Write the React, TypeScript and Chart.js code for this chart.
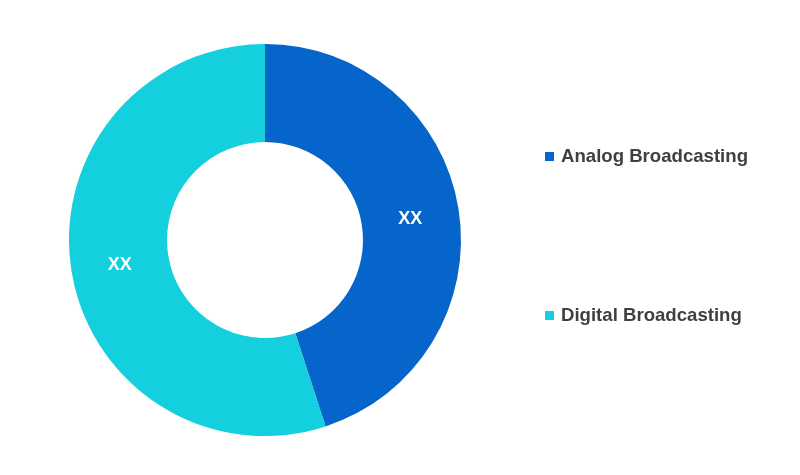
import { useEffect, useRef } from 'react';
import { Chart, registerables } from 'chart.js';

Chart.register(...registerables);

const segments = ['Analog Broadcasting', 'Digital Broadcasting'];
const shares = [45, 55];
const sliceLabels = ['XX', 'XX'];
const colors = ['#0565CA', '#14CFDE'];

const sliceTextPlugin = {
  id: 'sliceText',
  afterDatasetsDraw(chart: any) {
    const { ctx } = chart;
    const meta = chart.getDatasetMeta(0);
    ctx.save();
    ctx.fillStyle = '#ffffff';
    ctx.font = 'bold 18px "Liberation Sans", Arial, sans-serif';
    ctx.textAlign = 'center';
    ctx.textBaseline = 'middle';
    meta.data.forEach((arc: any, i: number) => {
      const p = arc.tooltipPosition();
      ctx.fillText(sliceLabels[i], p.x, p.y + 2);
    });
    ctx.restore();
  },
};

// legend drawn on the right, two rows far apart
const sideLegendPlugin = {
  id: 'sideLegend',
  afterDraw(chart: any) {
    const { ctx } = chart;
    const rows = [156, 315];
    ctx.save();
    ctx.font = 'bold 18.6px "Liberation Sans", Arial, sans-serif';
    ctx.textBaseline = 'middle';
    segments.forEach((name, i) => {
      ctx.fillStyle = colors[i];
      ctx.fillRect(545, rows[i] - 4, 9, 9);
      ctx.fillStyle = '#404040';
      ctx.fillText(name, 561, rows[i] + 1);
    });
    ctx.restore();
  },
};

const App = () => {
  const canvasRef = useRef(null as HTMLCanvasElement | null);
  const chartRef = useRef(null as any);

  useEffect(() => {
    if (!canvasRef.current) return;
    const ctx = canvasRef.current.getContext('2d');
    if (!ctx) return;
    if (chartRef.current) chartRef.current.destroy();

    chartRef.current = new Chart(ctx, {
      type: 'doughnut',
      data: {
        labels: segments,
        datasets: [{
          data: shares,
          backgroundColor: colors,
          borderWidth: 0,
        }],
      },
      options: {
        responsive: false,
        animation: false,
        cutout: '50%',
        layout: { padding: { left: 69, right: 339, top: 44, bottom: 39 } },
        plugins: {
          legend: { display: false },
          tooltip: { enabled: false },
        },
      },
      plugins: [sliceTextPlugin, sideLegendPlugin],
    });

    return () => {
      if (chartRef.current) chartRef.current.destroy();
    };
  }, []);

  return (
    <div style={{ position: 'absolute', left: 0, top: 0, width: 800, height: 475, background: '#fff' }}>
      <canvas ref={canvasRef} width={800} height={475} />
    </div>
  );
};

export default App;
